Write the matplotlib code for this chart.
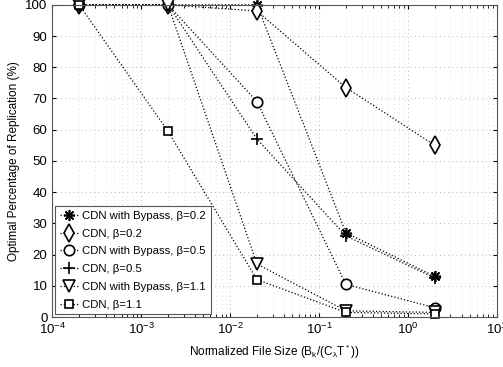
import matplotlib.pyplot as plt
from matplotlib.ticker import LogLocator

plt.rcParams.update({
    "font.family": ["Liberation Sans", "DejaVu Sans"],
    "font.size": 8.5,
    "mathtext.fontset": "custom",
    "mathtext.rm": "Liberation Sans",
    "mathtext.it": "Liberation Sans",
})

# ─── DATA ────────────────────────────────────────────────────────────────
file_size = [2e-4, 2e-3, 2e-2, 2e-1, 2.0]

bypass_b02 = [100, 100, 100, 27, 13]
cdn_b02    = [100, 100, 98, 73.5, 55]
bypass_b05 = [100, 100, 69, 10.5, 3]
cdn_b05    = [100, 100, 57, 26, 12.5]
bypass_b11 = [100, 100, 17, 2, 1.5]
cdn_b11    = [100, 59.5, 12, 1.5, 1]

# asterisk = MATLAB-like 8-arm star
series = [
    ("CDN with Bypass, β=0.2", bypass_b02, (8, 2, 0), 8),
    ("CDN, β=0.2",             cdn_b02,    "d", 9),
    ("CDN with Bypass, β=0.5", bypass_b05, "o", 7.5),
    ("CDN, β=0.5",             cdn_b05,    "+", 8),
    ("CDN with Bypass, β=1.1", bypass_b11, "v", 8),
    ("CDN, β=1.1",             cdn_b11,    "s", 6),
]

fig = plt.figure(figsize=(5.03, 3.67), dpi=100)
ax = fig.add_axes([0.104, 0.136, 0.884, 0.851])

for label, vals, mk, ms in series:
    ax.plot(file_size, vals, linestyle=":", color="black", linewidth=0.9,
            marker=mk, markersize=ms, markerfacecolor="white",
            markeredgecolor="black", markeredgewidth=1.2, label=label,
            clip_on=False)

ax.set_xscale("log")
ax.set_xlim(1e-4, 10)
ax.set_ylim(0, 100)
ax.set_yticks(range(0, 101, 10))
ax.xaxis.set_major_locator(LogLocator(base=10, numticks=10))
ax.xaxis.set_minor_locator(LogLocator(base=10, subs=range(2, 10), numticks=20))
ax.tick_params(which="both", direction="in", top=True, right=True, length=3,
               labelsize=9.5)
ax.tick_params(which="minor", length=2)

ax.grid(True, which="major", linestyle=(0, (1, 4)), color="#a0a0a0", linewidth=0.6)
ax.grid(True, which="minor", axis="x", linestyle=(0, (1, 5)), color="#c0c0c0",
        linewidth=0.5)
for s in ax.spines.values():
    s.set_color("#555555")

ax.set_xlabel(r"Normalized File Size (B$_k$/(C$_\lambda$T$^*$))")
ax.set_ylabel("Optimal Percentage of Replication (%)")

leg = ax.legend(loc="lower left", fancybox=False, edgecolor="#555555",
                framealpha=1, borderaxespad=0.25, handlelength=1.6,
                handletextpad=0.4, labelspacing=0.68, fontsize=8.2,
                borderpad=0.4)
leg.get_frame().set_linewidth(0.8)

fig.savefig("out.png", dpi=100)
